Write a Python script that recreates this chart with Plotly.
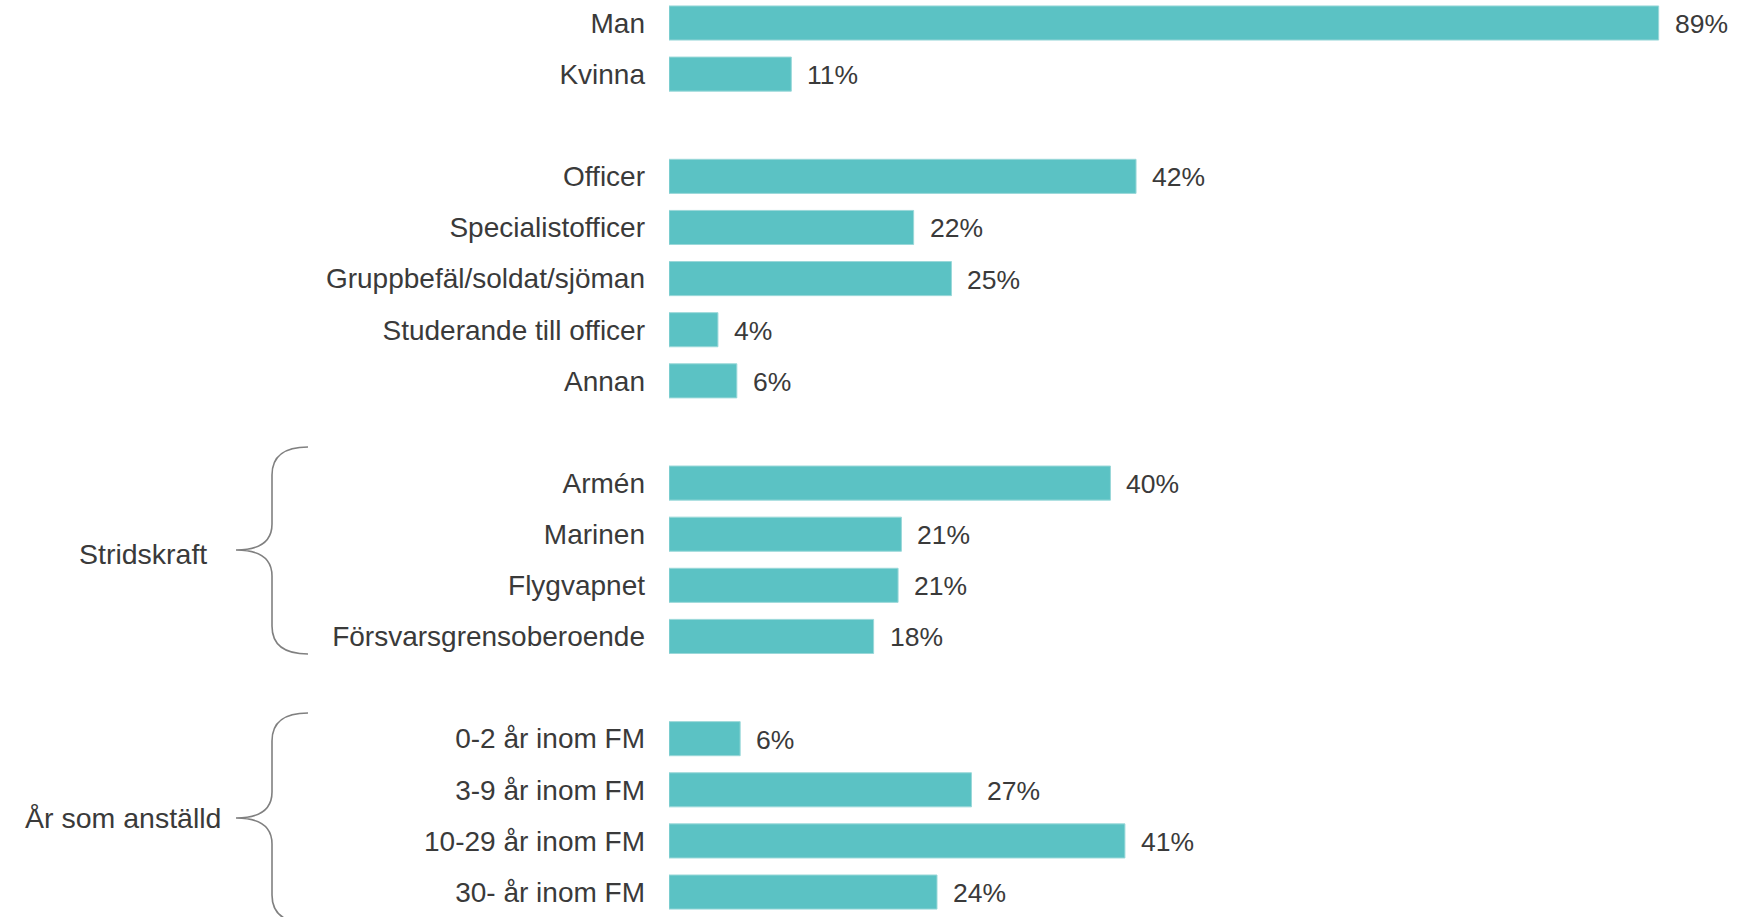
import plotly.graph_objects as go

# ---- data ----
groups = [
    ["Man", "Kvinna"],
    ["Officer", "Specialistofficer", "Gruppbefäl/soldat/sjöman", "Studerande till officer", "Annan"],
    ["Armén", "Marinen", "Flygvapnet", "Försvarsgrensoberoende"],
    ["0-2 år inom FM", "3-9 år inom FM", "10-29 år inom FM", "30- år inom FM"],
]
values = [89, 11, 42, 22, 25.4, 4.4, 6.1, 39.7, 20.9, 20.6, 18.4, 6.4, 27.2, 41, 24.1]
group_titles = ["", "", "Stridskraft", "År som anställd"]

# ---- layout helpers ----
W, H = 1740, 917
L = 669
BAR = "#5BC2C4"
TXT = "#3a3a3a"
FONT = "Liberation Sans, Arial, sans-serif"

cats, slots = [], []
s = 0
for g in groups:
    for c in g:
        cats.append(c)
        slots.append(s)
        s += 1
    s += 1  # gap slot between groups

fig = go.Figure()
fig.add_trace(go.Bar(
    x=values, y=slots, orientation="h", width=0.667,
    marker=dict(color=BAR, line=dict(color="#9ad8d9", width=1)),
    hoverinfo="skip",
))

annotations = []
for v, sl in zip(values, slots):
    annotations.append(dict(
        x=v, y=sl, xref="x", yref="y", text=f"{round(v)}%", showarrow=False,
        xanchor="left", yanchor="middle", xshift=14, yshift=-1,
        font=dict(family=FONT, size=26.5, color=TXT),
    ))

def bx(px):
    return (px - L) / (W - L)

def by(py):
    return 1 - py / H

# group labels and braces
brace_specs = [(2, 447, 550, 654, 209, 554), (3, 713, 818, 923, 223, 818)]
shapes = []
for gi, top, mid, bot, lx, ly in brace_specs:
    tip, spine, end = 236, 272, 308
    pts = (
        f"M {bx(end)},{by(top)} "
        f"Q {bx(spine)},{by(top)} {bx(spine)},{by(top + 28)} "
        f"L {bx(spine)},{by(mid - 26)} "
        f"Q {bx(spine)},{by(mid)} {bx(tip)},{by(mid)} "
        f"Q {bx(spine)},{by(mid)} {bx(spine)},{by(mid + 26)} "
        f"L {bx(spine)},{by(bot - 28)} "
        f"Q {bx(spine)},{by(bot)} {bx(end)},{by(bot)}"
    )
    shapes.append(dict(type="path", path=pts, xref="paper", yref="paper",
                       line=dict(color="#808080", width=1.6)))
    annotations.append(dict(
        x=bx(lx), y=by(ly), xref="paper", yref="paper", text=group_titles[gi],
        showarrow=False, xanchor="right", yanchor="middle",
        font=dict(family=FONT, size=28.5, color=TXT),
    ))

px_per_unit = 11.12
fig.update_layout(
    width=W, height=H,
    margin=dict(l=L, r=0, t=0, b=0, pad=0),
    paper_bgcolor="white", plot_bgcolor="white",
    showlegend=False,
    xaxis=dict(range=[0, (W - L) / px_per_unit], visible=False, fixedrange=True),
    yaxis=dict(
        range=[(H - 23) / 51.12, -23 / 51.12],
        tickmode="array", tickvals=slots, ticktext=cats,
        ticks="", showgrid=False, zeroline=False, showline=False,
        tickfont=dict(family=FONT, size=28, color=TXT),
        ticklabelstandoff=23, fixedrange=True,
    ),
    annotations=annotations,
    shapes=shapes,
    font=dict(family=FONT, color=TXT),
)

fig.write_html("out.html", post_script="document.body.style.margin='0';",
               config={"displayModeBar": False})
